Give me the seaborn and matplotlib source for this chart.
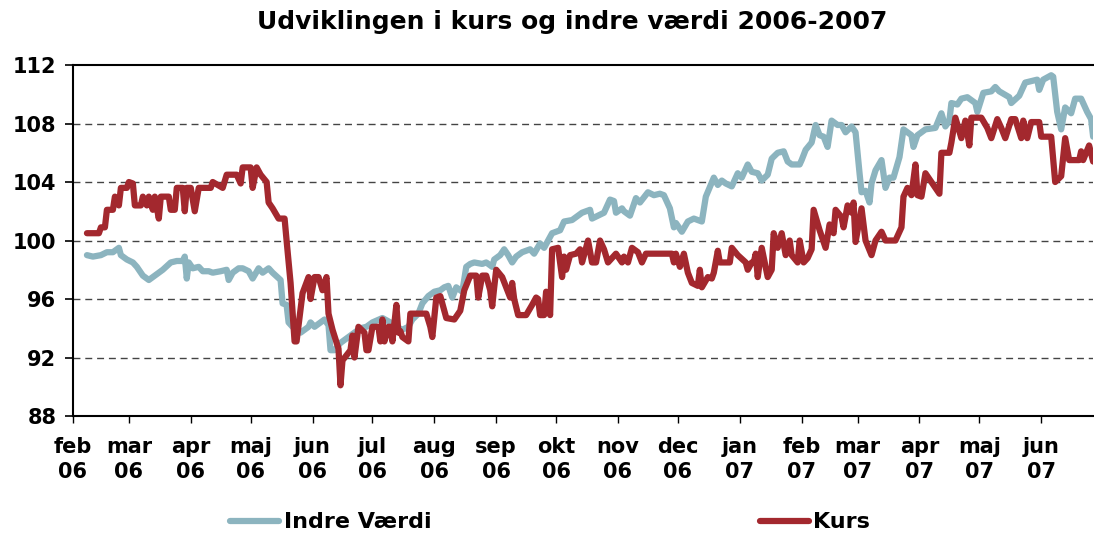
import pandas as pd
import seaborn as sns
import matplotlib.pyplot as plt

indre_dates = [
    "2006-02-08", "2006-02-11", "2006-02-15", "2006-02-18", "2006-02-21", "2006-02-24", "2006-02-25", "2006-02-28",
    "2006-03-03", "2006-03-05", "2006-03-08", "2006-03-11", "2006-03-14", "2006-03-18", "2006-03-22", "2006-03-25",
    "2006-03-28", "2006-03-29", "2006-03-30", "2006-03-31", "2006-04-02", "2006-04-05", "2006-04-07", "2006-04-10",
    "2006-04-12", "2006-04-16", "2006-04-19", "2006-04-20", "2006-04-22", "2006-04-25", "2006-04-27", "2006-04-30",
    "2006-05-02", "2006-05-05", "2006-05-07", "2006-05-10", "2006-05-12", "2006-05-16", "2006-05-17", "2006-05-19",
    "2006-05-20", "2006-05-22", "2006-05-26", "2006-05-30", "2006-05-31", "2006-06-02", "2006-06-07", "2006-06-09",
    "2006-06-10", "2006-06-12", "2006-06-15", "2006-06-20", "2006-06-25", "2006-06-28", "2006-07-01", "2006-07-06",
    "2006-07-10", "2006-07-13", "2006-07-16", "2006-07-19", "2006-07-21", "2006-07-24", "2006-07-26", "2006-07-29",
    "2006-08-01", "2006-08-04", "2006-08-06", "2006-08-08", "2006-08-10", "2006-08-12", "2006-08-15", "2006-08-17",
    "2006-08-19", "2006-08-21", "2006-08-25", "2006-08-27", "2006-08-30", "2006-08-31", "2006-09-03", "2006-09-05",
    "2006-09-07", "2006-09-09", "2006-09-11", "2006-09-14", "2006-09-18", "2006-09-20", "2006-09-23", "2006-09-25",
    "2006-09-29", "2006-10-03", "2006-10-05", "2006-10-09", "2006-10-11", "2006-10-14", "2006-10-18", "2006-10-19",
    "2006-10-22", "2006-10-25", "2006-10-28", "2006-10-30", "2006-10-31", "2006-11-03", "2006-11-04", "2006-11-07",
    "2006-11-10", "2006-11-12", "2006-11-16", "2006-11-19", "2006-11-22", "2006-11-24", "2006-11-27", "2006-11-29",
    "2006-11-30", "2006-12-03", "2006-12-06", "2006-12-09", "2006-12-13", "2006-12-15", "2006-12-19", "2006-12-21",
    "2006-12-23", "2006-12-25", "2006-12-28", "2006-12-31", "2007-01-02", "2007-01-05", "2007-01-07", "2007-01-10",
    "2007-01-12", "2007-01-15", "2007-01-17", "2007-01-20", "2007-01-23", "2007-01-25", "2007-01-27", "2007-01-31",
    "2007-02-01", "2007-02-03", "2007-02-06", "2007-02-08", "2007-02-10", "2007-02-12", "2007-02-14", "2007-02-16",
    "2007-02-19", "2007-02-21", "2007-02-23", "2007-02-26", "2007-02-28", "2007-03-02", "2007-03-03", "2007-03-05",
    "2007-03-07", "2007-03-08", "2007-03-10", "2007-03-13", "2007-03-15", "2007-03-17", "2007-03-19", "2007-03-22",
    "2007-03-24", "2007-03-28", "2007-03-29", "2007-03-31", "2007-04-04", "2007-04-09", "2007-04-12", "2007-04-14",
    "2007-04-16", "2007-04-17", "2007-04-20", "2007-04-22", "2007-04-25", "2007-04-27", "2007-04-29", "2007-04-30",
    "2007-05-03", "2007-05-07", "2007-05-09", "2007-05-11", "2007-05-16", "2007-05-17", "2007-05-21", "2007-05-24",
    "2007-05-27", "2007-05-30", "2007-05-31", "2007-06-02", "2007-06-06", "2007-06-07", "2007-06-09", "2007-06-11",
    "2007-06-13", "2007-06-16", "2007-06-18", "2007-06-21", "2007-06-24", "2007-06-26", "2007-06-27",
]
indre_values = [
    99.0, 98.9, 99.0, 99.2, 99.2, 99.5, 99.0, 98.7,
    98.5, 98.2, 97.6, 97.3, 97.6, 98.0, 98.5, 98.6,
    98.6, 98.9, 97.4, 98.5, 98.1, 98.2, 97.9, 97.9,
    97.8, 97.9, 98.0, 97.3, 97.8, 98.1, 98.1, 97.9,
    97.4, 98.1, 97.8, 98.1, 97.8, 97.3, 95.7, 95.6,
    94.4, 94.1, 93.7, 94.1, 94.4, 94.1, 94.6, 94.2,
    92.5, 92.5, 93.0, 93.5, 94.0, 94.1, 94.4, 94.7,
    94.4, 94.1, 93.9, 94.1, 94.6, 95.0, 95.7, 96.2,
    96.5, 96.6, 96.8, 96.9, 96.1, 96.8, 96.5, 98.2,
    98.4, 98.5, 98.4, 98.5, 98.2, 98.7, 99.0, 99.4,
    99.0, 98.5, 98.9, 99.2, 99.4, 99.1, 99.8, 99.5,
    100.5, 100.7, 101.3, 101.4, 101.6, 101.9, 102.1, 101.5,
    101.7, 101.9, 102.8, 102.7, 101.9, 102.2, 102.0, 101.7,
    102.9, 102.6, 103.3, 103.1, 103.2, 103.1, 102.2, 100.9,
    101.2, 100.6, 101.3, 101.5, 101.3, 103.0, 104.3, 103.8,
    104.1, 103.9, 103.7, 104.6, 104.3, 105.2, 104.7, 104.6,
    104.1, 104.5, 105.6, 106.0, 106.1, 105.4, 105.2, 105.2,
    105.5, 106.2, 106.7, 107.9, 107.2, 107.1, 106.4, 108.2,
    107.9, 107.9, 107.4, 107.8, 107.4, 104.6, 103.3, 103.4,
    102.6, 103.9, 104.8, 105.5, 103.6, 104.3, 104.3, 105.7,
    107.6, 107.2, 106.4, 107.2, 107.6, 107.7, 108.7, 107.8,
    108.2, 109.4, 109.3, 109.7, 109.8, 109.6, 109.4, 108.8,
    110.1, 110.2, 110.5, 110.2, 109.8, 109.4, 109.9, 110.8,
    110.9, 111.0, 110.3, 111.0, 111.3, 111.2, 108.8, 107.6,
    109.1, 108.7, 109.7, 109.7, 108.8, 108.3, 107.1,
]

kurs_dates = [
    "2006-02-08", "2006-02-14", "2006-02-15", "2006-02-17", "2006-02-18", "2006-02-21", "2006-02-22", "2006-02-24",
    "2006-02-25", "2006-02-28", "2006-03-01", "2006-03-03", "2006-03-04", "2006-03-07", "2006-03-08", "2006-03-10",
    "2006-03-11", "2006-03-13", "2006-03-14", "2006-03-16", "2006-03-17", "2006-03-21", "2006-03-22", "2006-03-24",
    "2006-03-25", "2006-03-28", "2006-03-29", "2006-03-30", "2006-04-01", "2006-04-03", "2006-04-05", "2006-04-11",
    "2006-04-12", "2006-04-17", "2006-04-19", "2006-04-24", "2006-04-26", "2006-04-27", "2006-05-01", "2006-05-02",
    "2006-05-04", "2006-05-06", "2006-05-09", "2006-05-10", "2006-05-12", "2006-05-15", "2006-05-18", "2006-05-19",
    "2006-05-21", "2006-05-23", "2006-05-24", "2006-05-27", "2006-05-30", "2006-05-31", "2006-06-02", "2006-06-04",
    "2006-06-06", "2006-06-08", "2006-06-09", "2006-06-11", "2006-06-14", "2006-06-15", "2006-06-16", "2006-06-20",
    "2006-06-21", "2006-06-22", "2006-06-24", "2006-06-27", "2006-06-28", "2006-06-29", "2006-07-01", "2006-07-04",
    "2006-07-05", "2006-07-06", "2006-07-07", "2006-07-09", "2006-07-10", "2006-07-11", "2006-07-13", "2006-07-14",
    "2006-07-15", "2006-07-16", "2006-07-19", "2006-07-20", "2006-07-28", "2006-07-30", "2006-07-31", "2006-08-02",
    "2006-08-04", "2006-08-07", "2006-08-11", "2006-08-14", "2006-08-16", "2006-08-19", "2006-08-22", "2006-08-23",
    "2006-08-25", "2006-08-27", "2006-08-29", "2006-08-30", "2006-08-31", "2006-09-01", "2006-09-04", "2006-09-06",
    "2006-09-08", "2006-09-09", "2006-09-10", "2006-09-12", "2006-09-16", "2006-09-19", "2006-09-21", "2006-09-22",
    "2006-09-23", "2006-09-25", "2006-09-26", "2006-09-28", "2006-09-29", "2006-10-02", "2006-10-04", "2006-10-05",
    "2006-10-06", "2006-10-08", "2006-10-11", "2006-10-13", "2006-10-14", "2006-10-17", "2006-10-19", "2006-10-21",
    "2006-10-23", "2006-10-25", "2006-10-27", "2006-10-31", "2006-11-03", "2006-11-04", "2006-11-06", "2006-11-08",
    "2006-11-11", "2006-11-13", "2006-11-15", "2006-11-28", "2006-11-29", "2006-11-30", "2006-12-02", "2006-12-04",
    "2006-12-06", "2006-12-08", "2006-12-11", "2006-12-12", "2006-12-13", "2006-12-16", "2006-12-18", "2006-12-19",
    "2006-12-21", "2006-12-22", "2006-12-27", "2006-12-28", "2006-12-31", "2007-01-04", "2007-01-05", "2007-01-07",
    "2007-01-08", "2007-01-09", "2007-01-10", "2007-01-12", "2007-01-15", "2007-01-17", "2007-01-18", "2007-01-20",
    "2007-01-22", "2007-01-24", "2007-01-26", "2007-01-27", "2007-01-30", "2007-01-31", "2007-02-02", "2007-02-04",
    "2007-02-06", "2007-02-07", "2007-02-10", "2007-02-13", "2007-02-15", "2007-02-17", "2007-02-18", "2007-02-21",
    "2007-02-22", "2007-02-24", "2007-02-26", "2007-02-27", "2007-02-28", "2007-03-03", "2007-03-05", "2007-03-08",
    "2007-03-10", "2007-03-13", "2007-03-15", "2007-03-20", "2007-03-23", "2007-03-24", "2007-03-26", "2007-03-28",
    "2007-03-30", "2007-03-31", "2007-04-02", "2007-04-04", "2007-04-08", "2007-04-11", "2007-04-12", "2007-04-16",
    "2007-04-17", "2007-04-19", "2007-04-22", "2007-04-24", "2007-04-26", "2007-04-27", "2007-05-02", "2007-05-05",
    "2007-05-07", "2007-05-10", "2007-05-12", "2007-05-14", "2007-05-17", "2007-05-19", "2007-05-22", "2007-05-23",
    "2007-05-25", "2007-05-27", "2007-05-31", "2007-06-01", "2007-06-06", "2007-06-08", "2007-06-11", "2007-06-13",
    "2007-06-15", "2007-06-20", "2007-06-21", "2007-06-22", "2007-06-25", "2007-06-27",
]
kurs_values = [
    100.5, 100.5, 100.9, 100.9, 102.1, 102.1, 103.0, 102.4,
    103.6, 103.6, 104.0, 103.9, 102.4, 102.4, 103.0, 102.4,
    103.0, 102.1, 103.0, 101.5, 103.0, 103.0, 102.1, 102.1,
    103.6, 103.6, 102.0, 103.6, 103.6, 102.0, 103.6, 103.6,
    104.0, 103.6, 104.5, 104.5, 103.9, 105.0, 105.0, 103.6,
    105.0, 104.5, 104.0, 102.6, 102.2, 101.5, 101.5, 100.0,
    97.1, 93.1, 93.1, 96.4, 97.5, 96.0, 97.5, 97.5,
    96.6, 97.5, 95.0, 93.9, 92.6, 90.1, 91.8, 92.5,
    93.5, 92.0, 94.1, 93.7, 92.5, 92.5, 94.1, 94.1,
    93.1, 94.6, 93.1, 94.1, 94.1, 93.1, 95.6, 93.7,
    93.8, 93.4, 93.1, 95.0, 95.0, 94.1, 93.4, 96.1,
    96.2, 94.7, 94.6, 95.2, 96.6, 97.6, 97.6, 96.1,
    97.6, 97.6, 96.6, 95.5, 96.8, 98.0, 97.5, 96.8,
    96.1, 97.1, 96.0, 94.9, 94.9, 95.6, 96.1, 96.0,
    94.9, 94.9, 96.5, 94.9, 99.4, 99.5, 97.5, 98.9,
    98.0, 99.0, 99.1, 99.4, 98.5, 100.0, 98.5, 98.5,
    100.0, 99.4, 98.5, 99.1, 98.5, 98.9, 98.5, 99.5,
    99.2, 98.5, 99.1, 99.1, 98.5, 99.1, 98.2, 99.1,
    97.8, 97.1, 96.9, 98.0, 96.8, 97.5, 97.4, 97.8,
    99.3, 98.5, 98.5, 99.5, 99.0, 98.5, 98.0, 98.5,
    98.5, 99.1, 97.5, 99.5, 97.5, 98.0, 100.5, 99.5,
    100.5, 99.0, 100.0, 99.0, 98.5, 100.0, 98.5, 98.8,
    99.4, 102.1, 100.7, 99.5, 101.1, 100.5, 102.1, 101.6,
    100.9, 102.4, 101.9, 102.6, 99.9, 102.2, 100.0, 99.0,
    100.0, 100.6, 100.0, 100.0, 100.9, 103.0, 103.6, 103.1,
    105.2, 103.1, 103.0, 104.6, 103.8, 103.2, 106.0, 106.0,
    106.7, 108.4, 107.0, 108.2, 106.5, 108.4, 108.4, 107.7,
    107.0, 108.3, 107.7, 107.0, 108.3, 108.3, 107.0, 108.2,
    107.0, 108.1, 108.1, 107.1, 107.1, 104.0, 104.4, 107.0,
    105.5, 105.5, 106.1, 105.5, 106.5, 105.4,
]

month_labels = ["feb\n06", "mar\n06", "apr\n06", "maj\n06", "jun\n06", "jul\n06", "aug\n06", "sep\n06",
                "okt\n06", "nov\n06", "dec\n06", "jan\n07", "feb\n07", "mar\n07", "apr\n07", "maj\n07", "jun\n07"]
y_ticks = [88, 92, 96, 100, 104, 108, 112]

indre = pd.DataFrame({"dato": pd.to_datetime(indre_dates), "vaerdi": indre_values})
kurs = pd.DataFrame({"dato": pd.to_datetime(kurs_dates), "vaerdi": kurs_values})

sns.set_style("ticks")
plt.rcParams["font.family"] = ["DejaVu Sans"]
plt.rcParams["font.weight"] = "bold"
plt.rcParams["text.color"] = "black"
plt.rcParams["xtick.color"] = "black"
plt.rcParams["ytick.color"] = "black"

fig = plt.figure(figsize=(10.94, 5.33), dpi=100)
ax = fig.add_axes([0.0667, 0.2195, 0.9325, 0.6585])

blue = "#8CB4BF"
red = "#A3282E"
line_kw = dict(linewidth=4, solid_joinstyle="round", solid_capstyle="round")
sns.lineplot(data=indre, x="dato", y="vaerdi", ax=ax, color=blue, label="Indre Værdi", **line_kw)
sns.lineplot(data=kurs, x="dato", y="vaerdi", ax=ax, color=red, label="Kurs", **line_kw)

ax.set_xlim(pd.Timestamp("2006-02-01"), pd.Timestamp("2007-06-27"))
ax.set_ylim(88, 112)
ax.set_yticks(y_ticks)
ax.set_yticklabels([str(t) for t in y_ticks], fontsize=15, fontweight="bold", color="black")
ax.set_xticks(pd.date_range("2006-02-01", "2007-06-01", freq="MS"))
ax.set_xticklabels(month_labels, fontsize=15, fontweight="bold", linespacing=1.35, color="black")
ax.tick_params(axis="y", length=6, width=1.2, pad=6)
ax.tick_params(axis="x", length=5, width=1.0, pad=10)
ax.set_xlabel("")
ax.set_ylabel("")

for t in y_ticks[1:-1]:
    ax.axhline(t, color="#444444", linewidth=1, linestyle=(0, (5, 3.5)), zorder=0)

for side in ["left", "bottom", "top"]:
    ax.spines[side].set_linewidth(1.5)
    ax.spines[side].set_color("black")
ax.spines["right"].set_visible(False)

fig.text(0.523, 0.958, "Udviklingen i kurs og indre værdi 2006-2007",
         ha="center", va="center", fontsize=18, fontweight="bold", color="black")

ax.get_legend().remove()
handles, labels = ax.get_legend_handles_labels()
for h in handles:
    h.set_linewidth(4.5)
fig.legend(handles, labels, loc="center", bbox_to_anchor=(0.503, 0.02), ncol=2, frameon=False,
           prop={"size": 16, "weight": "bold"}, handlelength=2.2, handletextpad=0.2, columnspacing=14.8)

fig.savefig("out.png", dpi=100)
